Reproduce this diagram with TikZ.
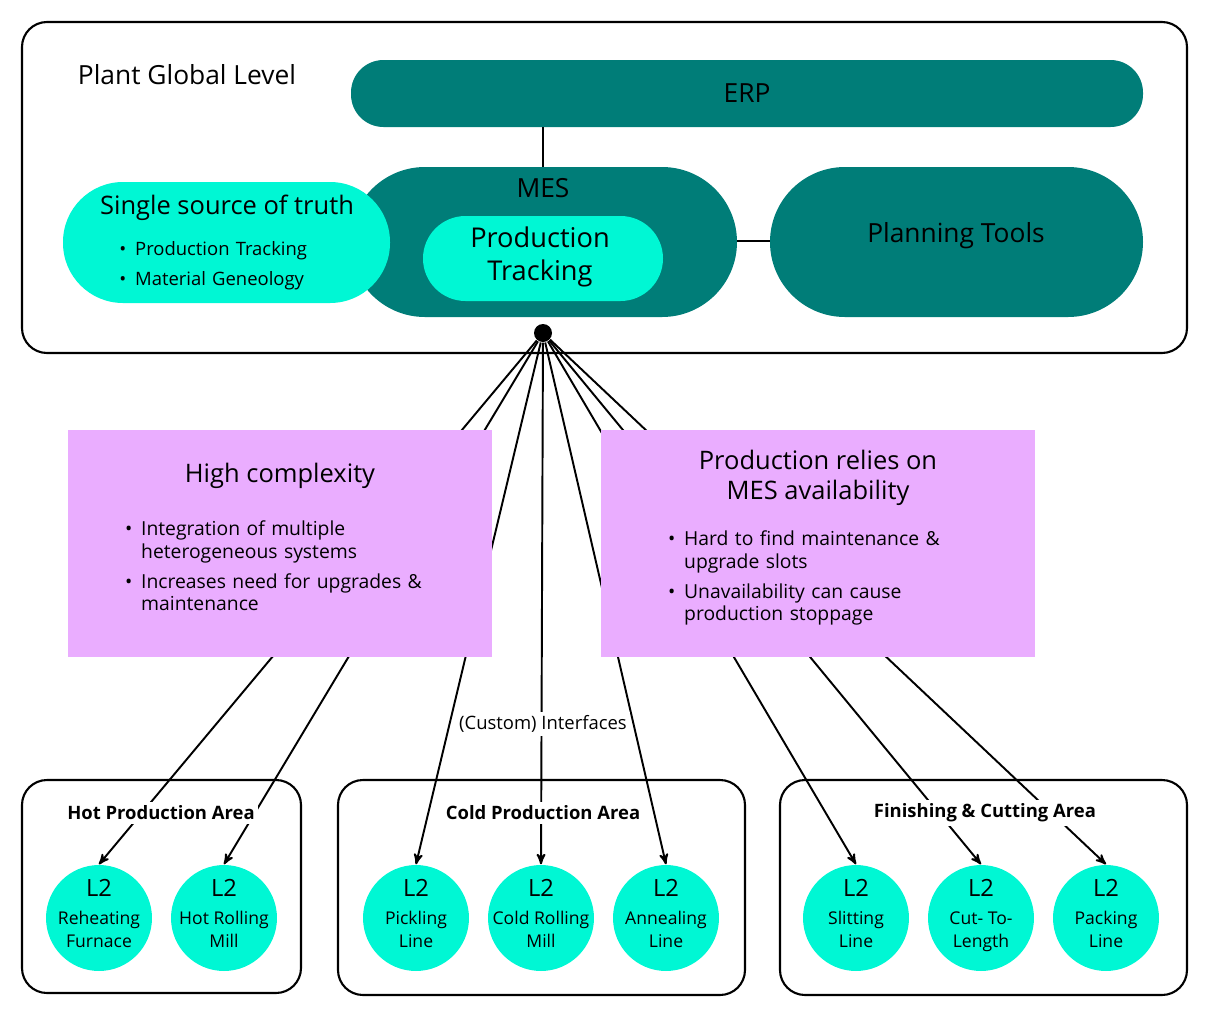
\documentclass[tikz,border=0pt]{standalone}
\usepackage{fontspec}
\setmainfont{Open Sans}
\usepackage{enumitem}
\usetikzlibrary{arrows}
\definecolor{teal}{HTML}{007D78}
\definecolor{aqua}{HTML}{00F7D4}
\definecolor{lilac}{HTML}{EAADFF}
\setlist[itemize]{nosep,leftmargin=14pt,itemsep=4pt,label=\textbullet}

\begin{document}
\begin{tikzpicture}[x=0.02cm,y=-0.02cm,thick,>=stealth']
  \tikzstyle{frame}=[draw,rounded corners=0.5cm,line width=1.2pt]
  \tikzstyle{pill}=[rounded corners=1.5cm]
  \tikzstyle{l2}=[circle,fill=aqua,minimum size=2.12cm,inner sep=0pt]
  \tikzstyle{l2text}=[align=center,inner sep=0pt,font=\fontsize{10}{13}\selectfont]
  \tikzstyle{area}=[fill=white,inner sep=2pt,font=\bfseries\fontsize{10.5}{13}\selectfont]
  \tikzstyle{link}=[line width=1.1pt]

  \useasboundingbox (0,0) rectangle (1208,1015);

  % plant level
  \draw[frame] (22,22) rectangle (1187,353);
  \node[font=\fontsize{15}{18}\selectfont] (plant) at (187,75) {Plant Global Level};
  \fill[teal,rounded corners=0.65cm] (351,60) rectangle (1143,127);
  \node[font=\fontsize{15}{18}\selectfont] (erp) at (747,93) {ERP};
  \draw[link] (543,127) -- (543,167);
  \draw[link] (737,241) -- (770,241);
  \fill[teal,pill] (350,167) rectangle (737,317);
  \node[font=\fontsize{15}{18}\selectfont] (mes) at (543,188) {MES};
  \fill[teal,pill] (770,167) rectangle (1143,317);
  \node[font=\fontsize{15}{18}\selectfont] (plan) at (956,236) {Planning Tools};
  \fill[aqua,rounded corners=1.2cm] (63,182) rectangle (390,303);
  \node[font=\fontsize{14.5}{18}\selectfont] (truth) at (227,208) {Single source of truth};
  \node[anchor=north west,text width=5cm,font=\fontsize{10.5}{13}\selectfont] (truthlist) at (104,226)
    {\begin{itemize}[itemsep=4pt]\item Production Tracking \item Material Geneology\end{itemize}};
  \fill[aqua,rounded corners=0.85cm] (423,216) rectangle (663,301);
  \node[align=center,font=\fontsize{15.5}{18.5}\selectfont] (track) at (540,257) {Production\\Tracking};

  \node[circle,fill=black,inner sep=0pt,minimum size=0.36cm] (hub) at (543,333) {};

  % lines level 2
  \foreach \n/\x/\a/\b in {1/99/Reheating/Furnace, 2/224/Hot Rolling/Mill, 3/416/Pickling/Line,
      4/541/Cold Rolling/Mill, 5/666/Annealing/Line, 6/856/Slitting/Line,
      7/981/Cut- To-/Length, 8/1106/Packing/Line} {
    \node[l2] (c\n) at (\x,918) {};
    \node[l2text] (t\n) at (\x,917) {\fontsize{13.5}{17}\selectfont L2\\[3pt]\strut\a\\\strut\b};
  }

  \foreach \c in {c1,c2,c3,c4,c5,c6,c7,c8}
    \draw[link,->] (hub) -- (\c.north);
  \node[fill=white,inner sep=2pt,font=\fontsize{10.5}{13}\selectfont] (iface) at (543,724) {(Custom) Interfaces};

  % issues
  \fill[lilac] (68,430) rectangle (492,657);
  \node[font=\fontsize{14.5}{18}\selectfont] (cplx) at (280,476) {High complexity};
  \node[anchor=north west,text width=6.6cm,font=\fontsize{11}{13}\selectfont] (cplxlist) at (110,506)
    {\begin{itemize}\item Integration of multiple heterogeneous systems \item Increases need for upgrades \& maintenance\end{itemize}};
  \fill[lilac] (601,430) rectangle (1035,657);
  \node[align=center,font=\fontsize{14.5}{17}\selectfont] (avail) at (818,478) {Production relies on\\MES availability};
  \node[anchor=north west,text width=6.6cm,font=\fontsize{11}{13}\selectfont] (availlist) at (653,516)
    {\begin{itemize}\item Hard to find maintenance \& upgrade slots \item Unavailability can cause production stoppage\end{itemize}};

  % areas
  \draw[frame] (22,780) rectangle (301,993);
  \node[area] (hot) at (161,813) {Hot Production Area};
  \draw[frame] (338,780) rectangle (745,995);
  \node[area] (cold) at (543,813) {Cold Production Area};
  \draw[frame] (780,780) rectangle (1187,995);
  \node[area] (fin) at (985,813) {Finishing \& Cutting Area};
\end{tikzpicture}
\end{document}
